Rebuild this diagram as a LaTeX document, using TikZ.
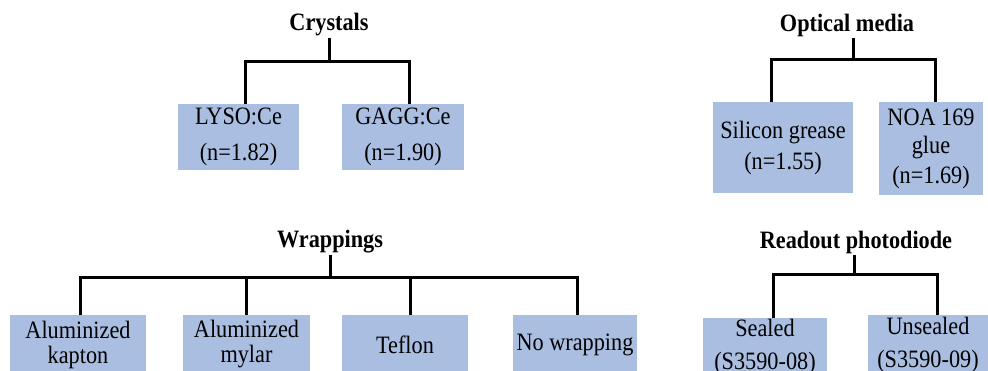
\documentclass[tikz,border=0pt]{standalone}
\usepackage{fontspec}
\setmainfont{Liberation Serif}[FakeStretch=0.89]
\definecolor{boxblue}{RGB}{169,190,224}
\tikzset{
  boxnode/.style={fill=boxblue, draw=none, inner sep=0pt, align=center,
    font=\fontsize{25}{25}\selectfont},
  titlenode/.style={inner sep=1pt, font=\fontsize{25}{25}\selectfont\bfseries},
  conn/.style={draw=black, line width=3pt, line join=miter}
}
\begin{document}
\begin{tikzpicture}[x=1pt,y=-1pt]
\useasboundingbox (0,0) rectangle (988,371);
\clip (0,0) rectangle (988,371);
% Crystals
\node[titlenode] (crys) at (329,25) {Crystals};
\node[boxnode, minimum width=121pt, minimum height=66pt] (lyso) at (238.5,137) {LYSO:Ce\\[11pt](n=1.82)};
\node[boxnode, minimum width=122pt, minimum height=66pt] (gagg) at (403,137) {GAGG:Ce\\[11pt](n=1.90)};
\draw[conn] ([xshift=6.5pt]lyso.north) -- ++(0,-42) coordinate (cb) -| ([xshift=6pt]gagg.north);
\draw[conn] (crys.south) -- (crys.south |- cb);
% Optical media
\node[titlenode] (opt) at (847,25) {Optical media};
\node[boxnode, minimum width=140pt, minimum height=91pt] (sil) at (783,147.5) {Silicon grease\\[6pt](n=1.55)};
\node[boxnode, minimum width=104pt, minimum height=93pt] (noa) at (931,148.5) {NOA 169\\[3pt]glue\\[5pt](n=1.69)};
\draw[conn] ([xshift=-12pt]sil.north) -- ++(0,-42) coordinate (ob) -| ([xshift=4pt]noa.north);
\draw[conn] ([xshift=6pt]opt.south) -- ([xshift=6pt]opt.south |- ob);
% Wrappings
\node[titlenode] (wrap) at (330,242) {Wrappings};
\node[boxnode, minimum width=136pt, minimum height=59pt] (kap) at (78,344.5) {Aluminized\\kapton};
\node[boxnode, minimum width=127pt, minimum height=59pt] (myl) at (246.5,344.5) {Aluminized\\mylar};
\node[boxnode, minimum width=126pt, minimum height=59pt] (tef) at (405,344.5) {Teflon};
\node[boxnode, minimum width=124pt, minimum height=59pt] (nowr) at (575,344.5) {No wrapping};
\draw[conn] ([xshift=2pt]kap.north) -- ++(0,-37) coordinate (wb) -| ([xshift=2pt]nowr.north);
\draw[conn] (myl.north) -- (myl.north |- wb);
\draw[conn] ([xshift=5pt]tef.north) -- ([xshift=5pt]tef.north |- wb);
\draw[conn] (wrap.south) -- (wrap.south |- wb);
% Readout photodiode
\node[titlenode] (read) at (856,242) {Readout photodiode};
\node[boxnode, minimum width=124pt, minimum height=57pt] (seal) at (765,346.5) {Sealed\\[8pt](S3590-08)};
\node[boxnode, minimum width=120pt, minimum height=60pt] (unseal) at (928,345) {Unsealed\\[8pt](S3590-09)};
\draw[conn] ([xshift=8pt]seal.north) -- ++(0,-43) coordinate (rb) -| ([xshift=9pt]unseal.north);
\draw[conn] ([xshift=-2pt]read.south) -- ([xshift=-2pt]read.south |- rb);
\end{tikzpicture}
\end{document}
